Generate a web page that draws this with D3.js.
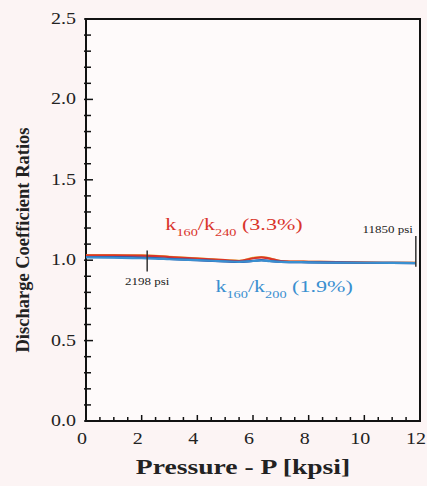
<!DOCTYPE html>
<html>
<head>
<meta charset="utf-8">
<script src="https://cdn.jsdelivr.net/npm/d3@7"></script>
<style>
  body { margin: 0; background: #fcf4f4; }
  svg { display: block; font-family: "Liberation Serif", "DejaVu Serif", serif; }
</style>
</head>
<body>
<svg id="chart" width="427" height="486"></svg>
<script>
// data
const pressure = [0, 1, 2, 2.5, 3, 4, 5, 5.5, 6, 6.3, 6.6, 7, 8, 9, 10, 11, 11.85];
const k160_k240 = [1.03, 1.03, 1.028, 1.025, 1.02, 1.01, 1.0, 0.995, 1.012, 1.018, 1.01, 0.995, 0.99, 0.988, 0.985, 0.984, 0.983];
const k160_k240b = [1.032, 1.031, 1.03, 1.027, 1.021, 1.011, 1.0, 0.996, 1.014, 1.02, 1.011, 0.995, 0.99, 0.988, 0.985, 0.984, 0.983];
const k160_k200 = [1.017, 1.016, 1.012, 1.01, 1.006, 1.0, 0.993, 0.99, 0.995, 0.998, 0.994, 0.99, 0.987, 0.985, 0.984, 0.983, 0.982];
const k160_k200b = [1.02, 1.019, 1.016, 1.013, 1.008, 1.0, 0.992, 0.989, 0.996, 1.0, 0.995, 0.99, 0.987, 0.985, 0.984, 0.983, 0.982];
const xTicks = [0, 2, 4, 6, 8, 10, 12];
const yTicks = [0, 0.5, 1.0, 1.5, 2.0, 2.5];
const markers = [
  { p: 2198, y0: 0.93, y1: 1.06, label: "2198 psi" },
  { p: 11850, y0: 0.96, y1: 1.15, label: "11850 psi" }
];

const margin = { top: 19, right: 7, bottom: 65, left: 86 };
const width = 427 - margin.left - margin.right;
const height = 486 - margin.top - margin.bottom;

const svg = d3.select("#chart");
const g = svg.append("g").attr("transform", "translate(" + margin.left + "," + margin.top + ")");

const x = d3.scaleLinear().domain([0, 12]).range([0, width]);
const y = d3.scaleLinear().domain([0, 2.5]).range([height, 0]);

// the scanned text is wider than it is tall
function wideText(parent, px, py, anchor, size, stretch) {
  return parent.append("text")
    .attr("transform", "translate(" + px + "," + py + ") scale(" + (stretch || 1.3) + ",1)")
    .attr("text-anchor", anchor).attr("font-size", size);
}

g.append("rect").attr("width", width).attr("height", height).attr("fill", "#fefafa");

// minor ticks (inside)
const xMinor = d3.range(0, 12.01, 0.5);
const yMinor = d3.range(0, 2.51, 0.1);
g.selectAll(".xm").data(xMinor).enter().append("line")
  .attr("x1", d => x(d)).attr("x2", d => x(d))
  .attr("y1", height).attr("y2", d => height - (d % 2 === 0 ? 6 : 4))
  .attr("stroke", "#111").attr("stroke-width", 1.5);
g.selectAll(".ym").data(yMinor).enter().append("line")
  .attr("x1", -2).attr("x2", (d, i) => i % 5 === 0 ? 7 : 5)
  .attr("y1", d => y(d)).attr("y2", d => y(d))
  .attr("stroke", "#111").attr("stroke-width", 1.5);

// frame
g.append("rect").attr("width", width).attr("height", height)
  .attr("fill", "none").attr("stroke", "#111").attr("stroke-width", 2);

// tick labels
xTicks.forEach(d => {
  wideText(g, x(d) - 4, height + 23, "middle", 16, 1.25).attr("fill", "#222").text(d);
});
yTicks.forEach(d => {
  wideText(g, -10, y(d) + 5, "end", 16, 1.25).attr("fill", "#222").text(d3.format(".1f")(d));
});

// axis titles
wideText(svg, 243, 474, "middle", 20, 1.38)
  .attr("font-weight", "bold").attr("fill", "#222")
  .text("Pressure - P [kpsi]");
svg.append("text").attr("transform", "translate(29,240) rotate(-90)")
  .attr("text-anchor", "middle").attr("font-size", 18.5).attr("font-weight", "bold").attr("fill", "#222")
  .text("Discharge Coefficient Ratios");

// curves
const line = d3.line().x((d, i) => x(pressure[i])).y(d => y(d)).curve(d3.curveMonotoneX);
const series = [
  { data: k160_k240b, color: "#e8c23a" },
  { data: k160_k240, color: "#d9342b" },
  { data: k160_k200b, color: "#2a3f9a" },
  { data: k160_k200, color: "#3a8fd0" }
];
g.selectAll(".curve").data(series).enter().append("path")
  .attr("fill", "none").attr("stroke", d => d.color).attr("stroke-width", 2.2)
  .attr("d", d => line(d.data));

// pressure markers
g.selectAll(".mk").data(markers).enter().append("line")
  .attr("x1", d => x(d.p / 1000)).attr("x2", d => x(d.p / 1000))
  .attr("y1", d => y(d.y0)).attr("y2", d => y(d.y1))
  .attr("stroke", "#333").attr("stroke-width", 1.5);
wideText(g, x(2.198), y(0.93) + 14, "middle", 10).attr("fill", "#222").text(markers[0].label);
wideText(g, x(11.85) - 3, y(1.15) - 3, "end", 10).attr("fill", "#222").text(markers[1].label);

// ratio labels
function ratioLabel(xp, yp, a, b, pct, color) {
  const t = wideText(g, x(xp), y(yp), "start", 17).attr("fill", color);
  t.append("tspan").text("k");
  t.append("tspan").attr("font-size", 11).attr("dy", 6).text(a);
  t.append("tspan").attr("dy", -6).text("/k");
  t.append("tspan").attr("font-size", 11).attr("dy", 6).text(b);
  t.append("tspan").attr("dy", -6).text(" (" + pct + ")");
}
ratioLabel(2.85, 1.19, "160", "240", "3.3%", "#d9342b");
ratioLabel(4.65, 0.80, "160", "200", "1.9%", "#3a8fd0");
</script>
</body>
</html>
